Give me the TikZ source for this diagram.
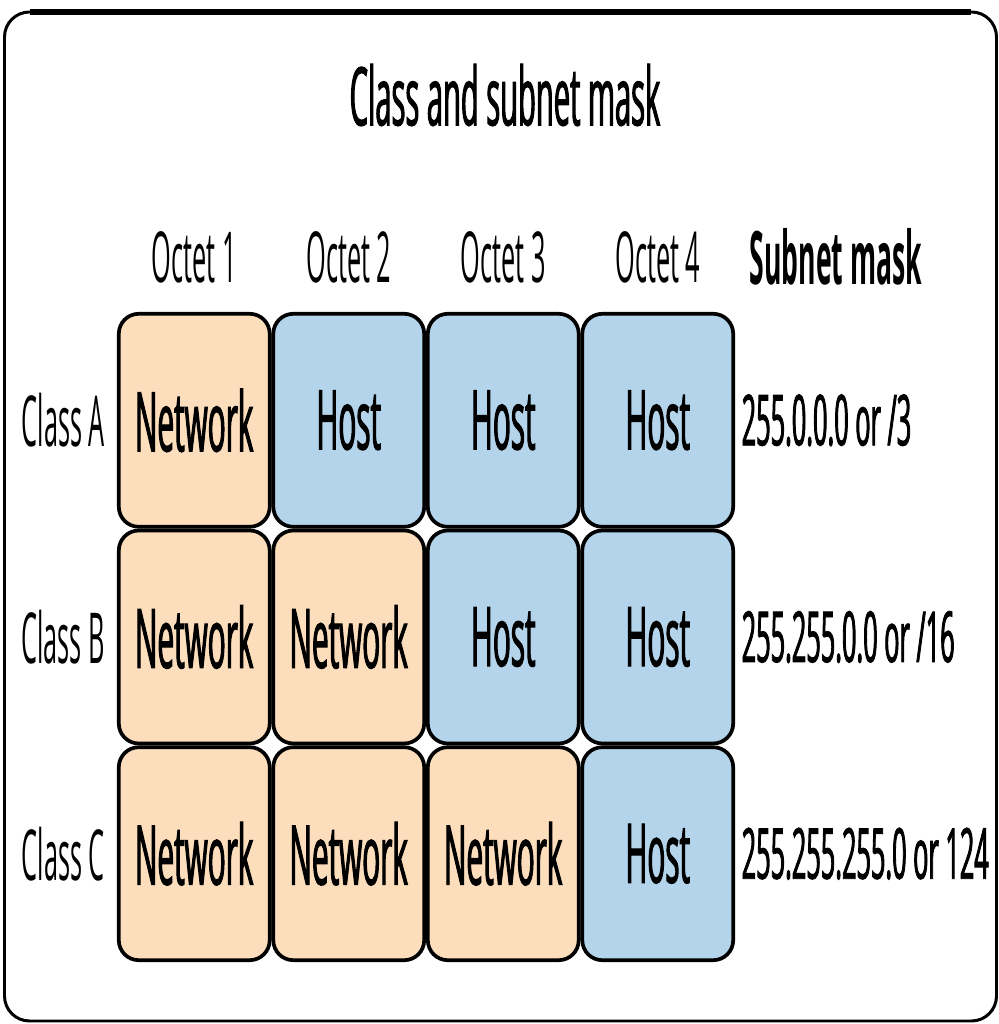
\documentclass[tikz,border=0pt]{standalone}
\usepackage{fontspec}
\setmainfont{Open Sans}[FakeStretch=0.36]
\newfontface\midfont{Open Sans}[FakeStretch=0.36, FakeBold=1.2]
\usetikzlibrary{positioning}

\definecolor{netfill}{HTML}{FCDEBC}
\definecolor{hostfill}{HTML}{B3D4EA}

\tikzset{
  cell/.style={draw, line width=1.05pt, rounded corners=0.2cm,
    minimum width=1.509cm, minimum height=2.13cm, inner sep=0pt,
    font=\fontsize{23.5}{28}\midfont},
  netcell/.style={cell, fill=netfill},
  hostcell/.style={cell, fill=hostfill},
  lbl/.style={inner sep=0pt, font=\fontsize{20}{24}\selectfont},
  masklbl/.style={inner sep=0pt, font=\fontsize{20}{24}\midfont},
}

\begin{document}
\begin{tikzpicture}[node distance=2.167cm and 1.545cm, on grid]
	\useasboundingbox (0,0) rectangle (9.99,10.24);
	\draw[line width=0.85pt, rounded corners=0.25cm] (0.045,0.03) rectangle (9.965,10.12);
	\draw[line width=1.7pt] (0.3,10.12) -- (9.71,10.12);

	\node[inner sep=0pt, font=\fontsize{23}{28}\midfont] (title) at (5.05,9.29) {Class and subnet mask};

	% class A
	\node[netcell] (a_1) at (1.9425,6.037) {Network};
	\node[hostcell] (a_2) [right=of a_1] {Host};
	\node[hostcell] (a_3) [right=of a_2] {Host};
	\node[hostcell] (a_4) [right=of a_3] {Host};

	% class B
	\node[netcell] (b_1) [below=of a_1] {Network};
	\node[netcell] (b_2) [right=of b_1] {Network};
	\node[hostcell] (b_3) [right=of b_2] {Host};
	\node[hostcell] (b_4) [right=of b_3] {Host};

	% class C
	\node[netcell] (c_1) [below=of b_1] {Network};
	\node[netcell] (c_2) [right=of c_1] {Network};
	\node[netcell] (c_3) [right=of c_2] {Network};
	\node[hostcell] (c_4) [right=of c_3] {Host};

	% headers
	\node[lbl] (o_1) [above=1.63cm of a_1] {Octet 1};
	\node[lbl] (o_2) [above=1.63cm of a_2] {Octet 2};
	\node[lbl] (o_3) [above=1.63cm of a_3] {Octet 3};
	\node[lbl] (o_4) [above=1.63cm of a_4] {Octet 4};
	\node[inner sep=0pt, font=\fontsize{21}{25}\selectfont\bfseries] (mask) at (8.36,7.67) {Subnet mask};

	\node[lbl] (cl_a) [left=1.31cm of a_1] {Class A};
	\node[lbl] (cl_b) [left=1.31cm of b_1] {Class B};
	\node[lbl] (cl_c) [left=1.31cm of c_1] {Class C};

	\node[masklbl, anchor=west] (m_a) at (7.41,6.037) {255.0.0.0 or /3};
	\node[masklbl, anchor=west] (m_b) at (7.41,3.87) {255.255.0.0 or /16};
	\node[masklbl, anchor=west] (m_c) at (7.41,1.703) {255.255.255.0 or 124};
\end{tikzpicture}
\end{document}
